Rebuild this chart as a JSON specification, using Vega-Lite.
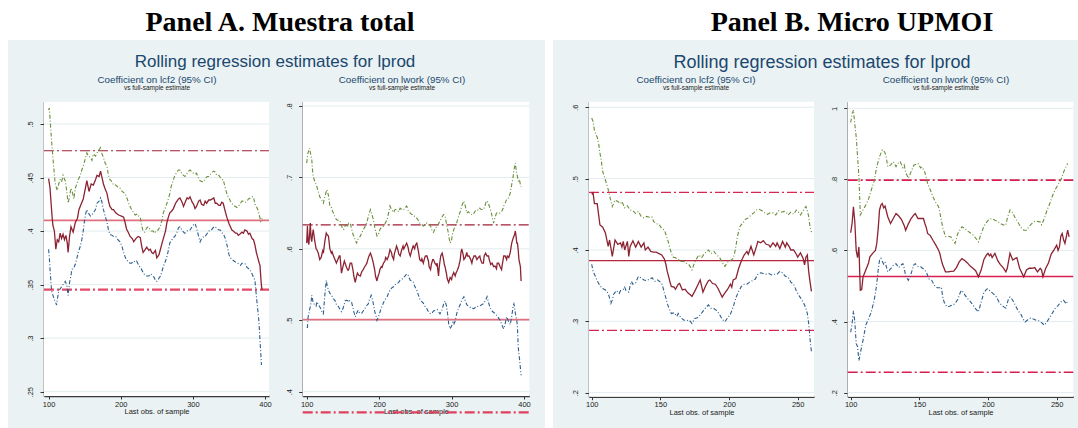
{
"$schema": "https://vega.github.io/schema/vega-lite/v6.json",
"background": "white",
"padding": {"left": 8, "top": 9, "right": 0, "bottom": 0},
"spacing": 8,
"resolve": {"scale": {"color": "independent", "strokeDash": "independent", "strokeWidth": "independent"}},
"config": {
  "view": {"stroke": null, "fill": "#EAF2F3"},
  "font": "Liberation Sans",
  "title": {"font": "Liberation Sans", "fontWeight": "normal", "color": "#1A476F", "anchor": "middle", "subtitleFont": "Liberation Sans", "subtitleColor": "#222222"},
  "axis": {"grid": false, "zindex": 1, "labelFont": "Liberation Sans", "labelFontSize": 7.5, "labelColor": "#222222", "tickColor": "#333333", "tickWidth": 1, "domainColor": "#3A3A3A", "domainWidth": 1.5, "titleFont": "Liberation Sans", "titleFontSize": 7.5, "titleFontWeight": "normal", "titleColor": "#222222", "labelFlush": false, "labelOverlap": false},
  "axisY": {"labelAngle": -90, "labelAlign": "center", "labelBaseline": "bottom", "labelPadding": 5.5, "tickSize": 4},
  "axisX": {"tickSize": 3, "labelPadding": 1, "titlePadding": 0, "format": "d", "labelAngle": 0}
},
"datasets": {
"A1r": [{"k":"ub","v":0.475},{"k":"est","v":0.41},{"k":"lb","v":0.3453}],
"A2r": [{"k":"ub","v":0.6336},{"k":"est","v":0.501},{"k":"lb","v":0.371}],
"B1r": [{"k":"ub","v":0.4808},{"k":"est","v":0.385},{"k":"lb","v":0.2874}],
"B2r": [{"k":"ub","v":0.798},{"k":"est","v":0.5268},{"k":"lb","v":0.2575}],
"A1c": [{"x":100,"y":0.449},{"x":102,"y":0.44},{"x":103,"y":0.43},{"x":105,"y":0.412},{"x":106,"y":0.405},{"x":108,"y":0.4},{"x":110,"y":0.383},{"x":112,"y":0.392},{"x":114,"y":0.39},{"x":116,"y":0.398},{"x":118,"y":0.393},{"x":120,"y":0.397},{"x":122,"y":0.392},{"x":124,"y":0.396},{"x":126,"y":0.388},{"x":127,"y":0.38},{"x":129,"y":0.395},{"x":131,"y":0.404},{"x":134,"y":0.399},{"x":137,"y":0.408},{"x":140,"y":0.412},{"x":142,"y":0.42},{"x":145,"y":0.425},{"x":148,"y":0.43},{"x":151,"y":0.44},{"x":153,"y":0.447},{"x":156,"y":0.437},{"x":159,"y":0.444},{"x":162,"y":0.443},{"x":165,"y":0.448},{"x":167,"y":0.452},{"x":170,"y":0.451},{"x":172,"y":0.456},{"x":174,"y":0.45},{"x":176,"y":0.444},{"x":178,"y":0.44},{"x":181,"y":0.435},{"x":183,"y":0.428},{"x":185,"y":0.423},{"x":188,"y":0.42},{"x":190,"y":0.42},{"x":193,"y":0.417},{"x":197,"y":0.415},{"x":201,"y":0.414},{"x":204,"y":0.413},{"x":206,"y":0.408},{"x":208,"y":0.402},{"x":211,"y":0.398},{"x":213,"y":0.395},{"x":216,"y":0.393},{"x":218,"y":0.39},{"x":221,"y":0.393},{"x":224,"y":0.395},{"x":227,"y":0.394},{"x":229,"y":0.386},{"x":231,"y":0.38},{"x":234,"y":0.383},{"x":236,"y":0.385},{"x":239,"y":0.382},{"x":241,"y":0.383},{"x":243,"y":0.38},{"x":245,"y":0.379},{"x":248,"y":0.382},{"x":250,"y":0.375},{"x":253,"y":0.378},{"x":255,"y":0.383},{"x":257,"y":0.388},{"x":259,"y":0.393},{"x":262,"y":0.4},{"x":264,"y":0.408},{"x":266,"y":0.413},{"x":268,"y":0.417},{"x":271,"y":0.419},{"x":273,"y":0.421},{"x":276,"y":0.426},{"x":278,"y":0.428},{"x":280,"y":0.43},{"x":282,"y":0.431},{"x":285,"y":0.427},{"x":287,"y":0.423},{"x":290,"y":0.428},{"x":292,"y":0.431},{"x":294,"y":0.43},{"x":296,"y":0.432},{"x":299,"y":0.427},{"x":301,"y":0.425},{"x":303,"y":0.421},{"x":305,"y":0.423},{"x":308,"y":0.428},{"x":310,"y":0.429},{"x":312,"y":0.425},{"x":315,"y":0.424},{"x":317,"y":0.428},{"x":319,"y":0.426},{"x":322,"y":0.429},{"x":324,"y":0.429},{"x":327,"y":0.43},{"x":329,"y":0.431},{"x":331,"y":0.426},{"x":333,"y":0.426},{"x":336,"y":0.424},{"x":338,"y":0.424},{"x":340,"y":0.427},{"x":342,"y":0.426},{"x":345,"y":0.418},{"x":347,"y":0.413},{"x":350,"y":0.407},{"x":352,"y":0.404},{"x":354,"y":0.401},{"x":356,"y":0.4},{"x":359,"y":0.398},{"x":361,"y":0.398},{"x":363,"y":0.396},{"x":365,"y":0.397},{"x":368,"y":0.399},{"x":370,"y":0.398},{"x":372,"y":0.401},{"x":375,"y":0.4},{"x":377,"y":0.397},{"x":379,"y":0.398},{"x":382,"y":0.393},{"x":384,"y":0.392},{"x":386,"y":0.387},{"x":388,"y":0.38},{"x":390,"y":0.375},{"x":392,"y":0.37},{"x":393,"y":0.368},{"x":394,"y":0.358},{"x":395,"y":0.349},{"x":396,"y":0.345}],
"A1h": [{"x":100,"y":0.513},{"x":101,"y":0.515},{"x":102,"y":0.505},{"x":104,"y":0.485},{"x":106,"y":0.468},{"x":107,"y":0.46},{"x":109,"y":0.445},{"x":111,"y":0.44},{"x":112,"y":0.438},{"x":114,"y":0.444},{"x":116,"y":0.448},{"x":118,"y":0.446},{"x":120,"y":0.452},{"x":121,"y":0.45},{"x":123,"y":0.447},{"x":125,"y":0.438},{"x":127,"y":0.426},{"x":129,"y":0.432},{"x":131,"y":0.44},{"x":133,"y":0.436},{"x":135,"y":0.43},{"x":137,"y":0.44},{"x":139,"y":0.444},{"x":141,"y":0.448},{"x":144,"y":0.452},{"x":146,"y":0.457},{"x":149,"y":0.463},{"x":151,"y":0.468},{"x":153,"y":0.473},{"x":155,"y":0.47},{"x":158,"y":0.469},{"x":160,"y":0.466},{"x":162,"y":0.472},{"x":165,"y":0.47},{"x":168,"y":0.474},{"x":170,"y":0.476},{"x":172,"y":0.478},{"x":174,"y":0.472},{"x":176,"y":0.469},{"x":178,"y":0.464},{"x":181,"y":0.46},{"x":183,"y":0.452},{"x":185,"y":0.448},{"x":188,"y":0.446},{"x":190,"y":0.443},{"x":193,"y":0.443},{"x":196,"y":0.441},{"x":199,"y":0.44},{"x":202,"y":0.437},{"x":206,"y":0.435},{"x":209,"y":0.43},{"x":211,"y":0.426},{"x":213,"y":0.423},{"x":215,"y":0.42},{"x":218,"y":0.417},{"x":220,"y":0.415},{"x":223,"y":0.416},{"x":225,"y":0.414},{"x":227,"y":0.413},{"x":229,"y":0.405},{"x":231,"y":0.4},{"x":233,"y":0.399},{"x":236,"y":0.403},{"x":238,"y":0.404},{"x":240,"y":0.402},{"x":242,"y":0.4},{"x":245,"y":0.4},{"x":247,"y":0.398},{"x":250,"y":0.401},{"x":252,"y":0.401},{"x":255,"y":0.405},{"x":257,"y":0.41},{"x":259,"y":0.417},{"x":262,"y":0.422},{"x":264,"y":0.426},{"x":266,"y":0.43},{"x":268,"y":0.435},{"x":270,"y":0.442},{"x":273,"y":0.448},{"x":275,"y":0.452},{"x":278,"y":0.455},{"x":280,"y":0.457},{"x":282,"y":0.457},{"x":285,"y":0.453},{"x":287,"y":0.452},{"x":289,"y":0.451},{"x":292,"y":0.454},{"x":294,"y":0.456},{"x":296,"y":0.457},{"x":299,"y":0.455},{"x":301,"y":0.454},{"x":303,"y":0.453},{"x":305,"y":0.454},{"x":308,"y":0.449},{"x":310,"y":0.447},{"x":313,"y":0.446},{"x":315,"y":0.446},{"x":317,"y":0.449},{"x":320,"y":0.451},{"x":322,"y":0.451},{"x":324,"y":0.453},{"x":327,"y":0.455},{"x":329,"y":0.456},{"x":331,"y":0.455},{"x":333,"y":0.452},{"x":336,"y":0.452},{"x":338,"y":0.45},{"x":340,"y":0.448},{"x":342,"y":0.448},{"x":345,"y":0.44},{"x":347,"y":0.435},{"x":349,"y":0.432},{"x":352,"y":0.428},{"x":354,"y":0.426},{"x":356,"y":0.424},{"x":359,"y":0.423},{"x":361,"y":0.422},{"x":363,"y":0.423},{"x":366,"y":0.426},{"x":368,"y":0.428},{"x":370,"y":0.428},{"x":373,"y":0.427},{"x":375,"y":0.428},{"x":377,"y":0.43},{"x":380,"y":0.431},{"x":382,"y":0.432},{"x":384,"y":0.432},{"x":386,"y":0.425},{"x":388,"y":0.423},{"x":390,"y":0.42},{"x":392,"y":0.415},{"x":394,"y":0.409},{"x":395,"y":0.41},{"x":396,"y":0.412}],
"A1l": [{"x":100,"y":0.383},{"x":101,"y":0.375},{"x":102,"y":0.364},{"x":104,"y":0.345},{"x":106,"y":0.34},{"x":108,"y":0.336},{"x":110,"y":0.333},{"x":111,"y":0.331},{"x":112,"y":0.336},{"x":114,"y":0.344},{"x":116,"y":0.346},{"x":118,"y":0.348},{"x":120,"y":0.35},{"x":122,"y":0.352},{"x":123,"y":0.353},{"x":125,"y":0.35},{"x":127,"y":0.34},{"x":129,"y":0.352},{"x":131,"y":0.358},{"x":132,"y":0.364},{"x":135,"y":0.366},{"x":137,"y":0.369},{"x":139,"y":0.374},{"x":141,"y":0.38},{"x":144,"y":0.386},{"x":146,"y":0.392},{"x":148,"y":0.4},{"x":150,"y":0.411},{"x":152,"y":0.418},{"x":153,"y":0.42},{"x":155,"y":0.417},{"x":158,"y":0.414},{"x":160,"y":0.415},{"x":162,"y":0.417},{"x":165,"y":0.42},{"x":167,"y":0.426},{"x":170,"y":0.428},{"x":172,"y":0.431},{"x":174,"y":0.427},{"x":176,"y":0.42},{"x":178,"y":0.415},{"x":181,"y":0.408},{"x":183,"y":0.401},{"x":185,"y":0.397},{"x":188,"y":0.396},{"x":190,"y":0.395},{"x":193,"y":0.395},{"x":196,"y":0.392},{"x":199,"y":0.39},{"x":202,"y":0.385},{"x":204,"y":0.38},{"x":206,"y":0.376},{"x":208,"y":0.373},{"x":211,"y":0.371},{"x":213,"y":0.37},{"x":215,"y":0.37},{"x":218,"y":0.372},{"x":220,"y":0.371},{"x":222,"y":0.372},{"x":225,"y":0.368},{"x":227,"y":0.366},{"x":229,"y":0.364},{"x":232,"y":0.36},{"x":234,"y":0.359},{"x":236,"y":0.358},{"x":239,"y":0.358},{"x":241,"y":0.36},{"x":243,"y":0.359},{"x":246,"y":0.357},{"x":248,"y":0.354},{"x":250,"y":0.353},{"x":252,"y":0.355},{"x":255,"y":0.358},{"x":257,"y":0.362},{"x":259,"y":0.367},{"x":262,"y":0.372},{"x":264,"y":0.376},{"x":266,"y":0.382},{"x":268,"y":0.389},{"x":271,"y":0.392},{"x":273,"y":0.394},{"x":275,"y":0.395},{"x":278,"y":0.399},{"x":280,"y":0.403},{"x":282,"y":0.404},{"x":285,"y":0.401},{"x":287,"y":0.399},{"x":289,"y":0.398},{"x":292,"y":0.4},{"x":294,"y":0.401},{"x":296,"y":0.401},{"x":299,"y":0.404},{"x":301,"y":0.406},{"x":303,"y":0.407},{"x":305,"y":0.403},{"x":308,"y":0.395},{"x":310,"y":0.39},{"x":312,"y":0.393},{"x":315,"y":0.395},{"x":317,"y":0.395},{"x":320,"y":0.398},{"x":322,"y":0.4},{"x":324,"y":0.4},{"x":327,"y":0.402},{"x":329,"y":0.404},{"x":331,"y":0.404},{"x":334,"y":0.402},{"x":336,"y":0.401},{"x":338,"y":0.401},{"x":341,"y":0.398},{"x":343,"y":0.396},{"x":345,"y":0.393},{"x":348,"y":0.385},{"x":350,"y":0.378},{"x":352,"y":0.375},{"x":355,"y":0.373},{"x":357,"y":0.372},{"x":359,"y":0.371},{"x":362,"y":0.37},{"x":364,"y":0.369},{"x":366,"y":0.368},{"x":368,"y":0.37},{"x":371,"y":0.37},{"x":373,"y":0.369},{"x":375,"y":0.366},{"x":377,"y":0.365},{"x":379,"y":0.364},{"x":382,"y":0.36},{"x":384,"y":0.357},{"x":386,"y":0.354},{"x":388,"y":0.339},{"x":390,"y":0.326},{"x":391,"y":0.32},{"x":392,"y":0.31},{"x":393,"y":0.298},{"x":394,"y":0.287},{"x":395,"y":0.275}],
"A2c": [{"x":100,"y":0.608},{"x":101,"y":0.632},{"x":102,"y":0.61},{"x":103,"y":0.606},{"x":104,"y":0.62},{"x":105,"y":0.636},{"x":106,"y":0.615},{"x":107,"y":0.61},{"x":108,"y":0.62},{"x":109,"y":0.627},{"x":111,"y":0.612},{"x":113,"y":0.6},{"x":114,"y":0.599},{"x":116,"y":0.594},{"x":118,"y":0.585},{"x":120,"y":0.588},{"x":122,"y":0.597},{"x":123,"y":0.594},{"x":125,"y":0.61},{"x":127,"y":0.622},{"x":128,"y":0.62},{"x":130,"y":0.618},{"x":132,"y":0.6},{"x":134,"y":0.594},{"x":135,"y":0.596},{"x":137,"y":0.59},{"x":139,"y":0.585},{"x":141,"y":0.58},{"x":143,"y":0.585},{"x":145,"y":0.59},{"x":146,"y":0.59},{"x":148,"y":0.566},{"x":150,"y":0.575},{"x":152,"y":0.583},{"x":153,"y":0.58},{"x":155,"y":0.574},{"x":157,"y":0.57},{"x":158,"y":0.571},{"x":160,"y":0.58},{"x":162,"y":0.58},{"x":164,"y":0.57},{"x":165,"y":0.562},{"x":167,"y":0.553},{"x":168,"y":0.558},{"x":170,"y":0.566},{"x":172,"y":0.563},{"x":174,"y":0.562},{"x":176,"y":0.568},{"x":178,"y":0.571},{"x":180,"y":0.575},{"x":182,"y":0.578},{"x":183,"y":0.58},{"x":185,"y":0.587},{"x":186,"y":0.59},{"x":188,"y":0.594},{"x":190,"y":0.588},{"x":192,"y":0.58},{"x":194,"y":0.57},{"x":195,"y":0.562},{"x":197,"y":0.555},{"x":198,"y":0.56},{"x":200,"y":0.566},{"x":201,"y":0.571},{"x":203,"y":0.575},{"x":204,"y":0.574},{"x":206,"y":0.58},{"x":208,"y":0.583},{"x":209,"y":0.588},{"x":211,"y":0.585},{"x":213,"y":0.59},{"x":215,"y":0.599},{"x":217,"y":0.595},{"x":218,"y":0.59},{"x":220,"y":0.585},{"x":221,"y":0.593},{"x":223,"y":0.6},{"x":224,"y":0.604},{"x":226,"y":0.598},{"x":227,"y":0.593},{"x":229,"y":0.59},{"x":231,"y":0.598},{"x":233,"y":0.604},{"x":234,"y":0.6},{"x":236,"y":0.604},{"x":238,"y":0.608},{"x":240,"y":0.602},{"x":241,"y":0.596},{"x":243,"y":0.59},{"x":245,"y":0.598},{"x":247,"y":0.604},{"x":249,"y":0.6},{"x":250,"y":0.605},{"x":252,"y":0.608},{"x":254,"y":0.598},{"x":256,"y":0.585},{"x":258,"y":0.583},{"x":259,"y":0.586},{"x":261,"y":0.58},{"x":263,"y":0.588},{"x":264,"y":0.59},{"x":266,"y":0.59},{"x":268,"y":0.583},{"x":269,"y":0.575},{"x":271,"y":0.571},{"x":272,"y":0.578},{"x":274,"y":0.585},{"x":275,"y":0.585},{"x":277,"y":0.58},{"x":279,"y":0.577},{"x":280,"y":0.58},{"x":282,"y":0.562},{"x":283,"y":0.575},{"x":285,"y":0.59},{"x":287,"y":0.594},{"x":289,"y":0.585},{"x":290,"y":0.578},{"x":291,"y":0.575},{"x":293,"y":0.565},{"x":294,"y":0.558},{"x":296,"y":0.553},{"x":298,"y":0.56},{"x":300,"y":0.557},{"x":301,"y":0.562},{"x":303,"y":0.567},{"x":305,"y":0.562},{"x":306,"y":0.566},{"x":308,"y":0.57},{"x":310,"y":0.576},{"x":312,"y":0.585},{"x":313,"y":0.595},{"x":314,"y":0.6},{"x":316,"y":0.592},{"x":317,"y":0.585},{"x":319,"y":0.588},{"x":321,"y":0.595},{"x":322,"y":0.59},{"x":324,"y":0.59},{"x":326,"y":0.586},{"x":328,"y":0.58},{"x":329,"y":0.585},{"x":331,"y":0.59},{"x":333,"y":0.59},{"x":335,"y":0.585},{"x":337,"y":0.588},{"x":339,"y":0.59},{"x":340,"y":0.585},{"x":342,"y":0.58},{"x":344,"y":0.58},{"x":345,"y":0.59},{"x":347,"y":0.594},{"x":349,"y":0.59},{"x":351,"y":0.59},{"x":352,"y":0.585},{"x":354,"y":0.578},{"x":356,"y":0.58},{"x":358,"y":0.575},{"x":360,"y":0.576},{"x":362,"y":0.572},{"x":363,"y":0.58},{"x":365,"y":0.58},{"x":367,"y":0.575},{"x":369,"y":0.571},{"x":370,"y":0.578},{"x":372,"y":0.59},{"x":374,"y":0.59},{"x":376,"y":0.585},{"x":377,"y":0.59},{"x":379,"y":0.588},{"x":381,"y":0.595},{"x":383,"y":0.608},{"x":385,"y":0.615},{"x":387,"y":0.62},{"x":388,"y":0.625},{"x":389,"y":0.618},{"x":390,"y":0.608},{"x":391,"y":0.608},{"x":392,"y":0.598},{"x":393,"y":0.585},{"x":394,"y":0.58},{"x":395,"y":0.575},{"x":396,"y":0.555}],
"A2h": [{"x":100,"y":0.72},{"x":101,"y":0.729},{"x":102,"y":0.735},{"x":103,"y":0.738},{"x":104,"y":0.741},{"x":105,"y":0.735},{"x":106,"y":0.73},{"x":107,"y":0.725},{"x":108,"y":0.71},{"x":109,"y":0.701},{"x":111,"y":0.695},{"x":113,"y":0.69},{"x":114,"y":0.687},{"x":116,"y":0.68},{"x":118,"y":0.673},{"x":120,"y":0.67},{"x":122,"y":0.666},{"x":123,"y":0.664},{"x":125,"y":0.673},{"x":127,"y":0.68},{"x":128,"y":0.683},{"x":130,"y":0.675},{"x":132,"y":0.66},{"x":134,"y":0.658},{"x":136,"y":0.652},{"x":137,"y":0.65},{"x":139,"y":0.645},{"x":141,"y":0.641},{"x":143,"y":0.64},{"x":145,"y":0.64},{"x":146,"y":0.639},{"x":148,"y":0.632},{"x":150,"y":0.628},{"x":151,"y":0.627},{"x":153,"y":0.632},{"x":155,"y":0.633},{"x":156,"y":0.632},{"x":158,"y":0.636},{"x":160,"y":0.636},{"x":162,"y":0.628},{"x":164,"y":0.62},{"x":165,"y":0.618},{"x":167,"y":0.612},{"x":169,"y":0.608},{"x":171,"y":0.614},{"x":173,"y":0.616},{"x":174,"y":0.618},{"x":176,"y":0.622},{"x":178,"y":0.627},{"x":180,"y":0.63},{"x":182,"y":0.635},{"x":183,"y":0.636},{"x":185,"y":0.645},{"x":187,"y":0.652},{"x":188,"y":0.655},{"x":190,"y":0.648},{"x":192,"y":0.641},{"x":194,"y":0.63},{"x":196,"y":0.622},{"x":197,"y":0.618},{"x":199,"y":0.62},{"x":201,"y":0.627},{"x":203,"y":0.63},{"x":206,"y":0.632},{"x":208,"y":0.635},{"x":211,"y":0.641},{"x":213,"y":0.65},{"x":215,"y":0.66},{"x":217,"y":0.655},{"x":220,"y":0.651},{"x":222,"y":0.655},{"x":224,"y":0.655},{"x":227,"y":0.652},{"x":229,"y":0.657},{"x":231,"y":0.655},{"x":234,"y":0.655},{"x":236,"y":0.658},{"x":238,"y":0.66},{"x":240,"y":0.654},{"x":243,"y":0.65},{"x":245,"y":0.648},{"x":247,"y":0.648},{"x":250,"y":0.644},{"x":252,"y":0.643},{"x":254,"y":0.64},{"x":256,"y":0.636},{"x":258,"y":0.635},{"x":261,"y":0.632},{"x":263,"y":0.633},{"x":266,"y":0.636},{"x":268,"y":0.634},{"x":271,"y":0.632},{"x":273,"y":0.626},{"x":275,"y":0.623},{"x":277,"y":0.628},{"x":280,"y":0.632},{"x":282,"y":0.635},{"x":284,"y":0.639},{"x":287,"y":0.645},{"x":289,"y":0.648},{"x":291,"y":0.646},{"x":293,"y":0.635},{"x":295,"y":0.625},{"x":296,"y":0.618},{"x":298,"y":0.608},{"x":300,"y":0.612},{"x":301,"y":0.62},{"x":303,"y":0.627},{"x":305,"y":0.632},{"x":307,"y":0.636},{"x":309,"y":0.643},{"x":311,"y":0.65},{"x":312,"y":0.652},{"x":314,"y":0.66},{"x":316,"y":0.665},{"x":317,"y":0.667},{"x":319,"y":0.66},{"x":321,"y":0.65},{"x":323,"y":0.652},{"x":325,"y":0.65},{"x":326,"y":0.65},{"x":328,"y":0.648},{"x":330,"y":0.648},{"x":332,"y":0.652},{"x":335,"y":0.655},{"x":337,"y":0.654},{"x":339,"y":0.657},{"x":341,"y":0.655},{"x":344,"y":0.655},{"x":346,"y":0.66},{"x":348,"y":0.667},{"x":349,"y":0.667},{"x":351,"y":0.663},{"x":353,"y":0.657},{"x":355,"y":0.65},{"x":357,"y":0.64},{"x":358,"y":0.636},{"x":360,"y":0.644},{"x":362,"y":0.65},{"x":364,"y":0.65},{"x":367,"y":0.65},{"x":369,"y":0.652},{"x":371,"y":0.656},{"x":372,"y":0.66},{"x":374,"y":0.664},{"x":376,"y":0.669},{"x":378,"y":0.67},{"x":381,"y":0.678},{"x":383,"y":0.69},{"x":385,"y":0.701},{"x":386,"y":0.71},{"x":387,"y":0.715},{"x":388,"y":0.72},{"x":389,"y":0.712},{"x":390,"y":0.705},{"x":391,"y":0.701},{"x":392,"y":0.695},{"x":393,"y":0.693},{"x":394,"y":0.695},{"x":395,"y":0.69},{"x":396,"y":0.687}],
"A2l": [{"x":100,"y":0.49},{"x":101,"y":0.49},{"x":102,"y":0.505},{"x":103,"y":0.509},{"x":104,"y":0.515},{"x":105,"y":0.519},{"x":106,"y":0.525},{"x":107,"y":0.535},{"x":108,"y":0.53},{"x":109,"y":0.524},{"x":111,"y":0.522},{"x":113,"y":0.52},{"x":114,"y":0.526},{"x":116,"y":0.522},{"x":118,"y":0.519},{"x":120,"y":0.515},{"x":122,"y":0.51},{"x":123,"y":0.509},{"x":125,"y":0.535},{"x":127,"y":0.556},{"x":128,"y":0.55},{"x":130,"y":0.542},{"x":132,"y":0.538},{"x":134,"y":0.535},{"x":136,"y":0.532},{"x":137,"y":0.53},{"x":139,"y":0.528},{"x":141,"y":0.522},{"x":143,"y":0.52},{"x":144,"y":0.519},{"x":146,"y":0.515},{"x":148,"y":0.512},{"x":150,"y":0.516},{"x":152,"y":0.523},{"x":153,"y":0.527},{"x":155,"y":0.528},{"x":157,"y":0.527},{"x":158,"y":0.529},{"x":160,"y":0.526},{"x":162,"y":0.525},{"x":164,"y":0.517},{"x":165,"y":0.512},{"x":167,"y":0.505},{"x":169,"y":0.51},{"x":171,"y":0.514},{"x":173,"y":0.51},{"x":176,"y":0.51},{"x":178,"y":0.513},{"x":180,"y":0.516},{"x":182,"y":0.519},{"x":184,"y":0.522},{"x":185,"y":0.523},{"x":187,"y":0.53},{"x":189,"y":0.535},{"x":191,"y":0.528},{"x":193,"y":0.518},{"x":194,"y":0.512},{"x":196,"y":0.505},{"x":197,"y":0.5},{"x":199,"y":0.505},{"x":201,"y":0.511},{"x":203,"y":0.517},{"x":205,"y":0.522},{"x":207,"y":0.527},{"x":209,"y":0.53},{"x":211,"y":0.533},{"x":213,"y":0.538},{"x":215,"y":0.542},{"x":218,"y":0.546},{"x":220,"y":0.547},{"x":222,"y":0.55},{"x":224,"y":0.551},{"x":227,"y":0.553},{"x":229,"y":0.556},{"x":231,"y":0.557},{"x":234,"y":0.56},{"x":236,"y":0.562},{"x":238,"y":0.565},{"x":240,"y":0.563},{"x":242,"y":0.558},{"x":243,"y":0.556},{"x":245,"y":0.555},{"x":247,"y":0.554},{"x":249,"y":0.548},{"x":252,"y":0.542},{"x":254,"y":0.536},{"x":256,"y":0.53},{"x":258,"y":0.527},{"x":261,"y":0.524},{"x":263,"y":0.52},{"x":266,"y":0.516},{"x":268,"y":0.512},{"x":271,"y":0.509},{"x":273,"y":0.51},{"x":275,"y":0.513},{"x":278,"y":0.514},{"x":280,"y":0.515},{"x":282,"y":0.512},{"x":284,"y":0.509},{"x":287,"y":0.515},{"x":289,"y":0.523},{"x":291,"y":0.527},{"x":293,"y":0.52},{"x":295,"y":0.505},{"x":296,"y":0.495},{"x":298,"y":0.488},{"x":300,"y":0.492},{"x":302,"y":0.497},{"x":303,"y":0.494},{"x":305,"y":0.499},{"x":307,"y":0.509},{"x":309,"y":0.515},{"x":311,"y":0.52},{"x":312,"y":0.522},{"x":314,"y":0.528},{"x":317,"y":0.533},{"x":319,"y":0.527},{"x":321,"y":0.522},{"x":323,"y":0.52},{"x":326,"y":0.518},{"x":328,"y":0.518},{"x":330,"y":0.516},{"x":333,"y":0.518},{"x":335,"y":0.518},{"x":337,"y":0.52},{"x":339,"y":0.52},{"x":342,"y":0.522},{"x":344,"y":0.523},{"x":347,"y":0.528},{"x":349,"y":0.533},{"x":351,"y":0.525},{"x":353,"y":0.518},{"x":355,"y":0.514},{"x":358,"y":0.511},{"x":360,"y":0.51},{"x":362,"y":0.507},{"x":365,"y":0.503},{"x":367,"y":0.5},{"x":369,"y":0.495},{"x":371,"y":0.49},{"x":372,"y":0.488},{"x":374,"y":0.495},{"x":376,"y":0.505},{"x":378,"y":0.5},{"x":380,"y":0.496},{"x":381,"y":0.494},{"x":383,"y":0.505},{"x":385,"y":0.52},{"x":386,"y":0.523},{"x":387,"y":0.518},{"x":388,"y":0.51},{"x":389,"y":0.505},{"x":390,"y":0.5},{"x":391,"y":0.49},{"x":392,"y":0.463},{"x":393,"y":0.452},{"x":394,"y":0.444},{"x":395,"y":0.433},{"x":396,"y":0.423}],
"B1c": [{"x":100,"y":0.478},{"x":101,"y":0.48},{"x":102,"y":0.465},{"x":104,"y":0.465},{"x":105,"y":0.45},{"x":106,"y":0.435},{"x":108,"y":0.432},{"x":110,"y":0.424},{"x":111,"y":0.414},{"x":112,"y":0.405},{"x":113,"y":0.414},{"x":115,"y":0.391},{"x":117,"y":0.414},{"x":119,"y":0.408},{"x":121,"y":0.41},{"x":122,"y":0.404},{"x":123,"y":0.412},{"x":124,"y":0.4},{"x":126,"y":0.412},{"x":127,"y":0.391},{"x":128,"y":0.405},{"x":130,"y":0.413},{"x":132,"y":0.404},{"x":134,"y":0.412},{"x":136,"y":0.404},{"x":138,"y":0.41},{"x":139,"y":0.4},{"x":141,"y":0.404},{"x":143,"y":0.398},{"x":145,"y":0.397},{"x":147,"y":0.397},{"x":149,"y":0.395},{"x":151,"y":0.393},{"x":153,"y":0.387},{"x":154,"y":0.38},{"x":155,"y":0.37},{"x":156,"y":0.363},{"x":157,"y":0.355},{"x":158,"y":0.349},{"x":160,"y":0.348},{"x":161,"y":0.345},{"x":163,"y":0.352},{"x":164,"y":0.353},{"x":166,"y":0.344},{"x":168,"y":0.345},{"x":170,"y":0.34},{"x":172,"y":0.337},{"x":173,"y":0.335},{"x":175,"y":0.342},{"x":177,"y":0.35},{"x":179,"y":0.358},{"x":181,"y":0.341},{"x":183,"y":0.35},{"x":185,"y":0.357},{"x":186,"y":0.358},{"x":188,"y":0.353},{"x":190,"y":0.352},{"x":192,"y":0.346},{"x":194,"y":0.338},{"x":195,"y":0.334},{"x":197,"y":0.34},{"x":199,"y":0.345},{"x":201,"y":0.352},{"x":202,"y":0.348},{"x":203,"y":0.358},{"x":205,"y":0.36},{"x":207,"y":0.374},{"x":209,"y":0.385},{"x":211,"y":0.393},{"x":213,"y":0.398},{"x":214,"y":0.394},{"x":216,"y":0.405},{"x":218,"y":0.393},{"x":220,"y":0.405},{"x":221,"y":0.412},{"x":223,"y":0.41},{"x":225,"y":0.413},{"x":227,"y":0.408},{"x":229,"y":0.407},{"x":230,"y":0.404},{"x":232,"y":0.41},{"x":234,"y":0.405},{"x":235,"y":0.41},{"x":237,"y":0.402},{"x":239,"y":0.412},{"x":241,"y":0.404},{"x":242,"y":0.41},{"x":244,"y":0.404},{"x":245,"y":0.4},{"x":247,"y":0.4},{"x":249,"y":0.394},{"x":250,"y":0.39},{"x":252,"y":0.396},{"x":254,"y":0.388},{"x":255,"y":0.379},{"x":256,"y":0.39},{"x":257,"y":0.393},{"x":258,"y":0.37},{"x":259,"y":0.355},{"x":260,"y":0.342}],
"B1h": [{"x":100,"y":0.585},{"x":101,"y":0.58},{"x":102,"y":0.567},{"x":104,"y":0.558},{"x":105,"y":0.55},{"x":106,"y":0.536},{"x":107,"y":0.525},{"x":108,"y":0.51},{"x":110,"y":0.498},{"x":112,"y":0.485},{"x":113,"y":0.476},{"x":115,"y":0.461},{"x":117,"y":0.47},{"x":119,"y":0.468},{"x":121,"y":0.465},{"x":122,"y":0.468},{"x":124,"y":0.459},{"x":126,"y":0.462},{"x":128,"y":0.456},{"x":130,"y":0.455},{"x":132,"y":0.451},{"x":134,"y":0.454},{"x":136,"y":0.447},{"x":138,"y":0.445},{"x":140,"y":0.447},{"x":142,"y":0.446},{"x":144,"y":0.446},{"x":145,"y":0.44},{"x":147,"y":0.437},{"x":149,"y":0.436},{"x":151,"y":0.43},{"x":153,"y":0.428},{"x":154,"y":0.422},{"x":155,"y":0.416},{"x":156,"y":0.41},{"x":157,"y":0.402},{"x":158,"y":0.396},{"x":159,"y":0.39},{"x":161,"y":0.389},{"x":163,"y":0.387},{"x":165,"y":0.384},{"x":167,"y":0.384},{"x":169,"y":0.381},{"x":171,"y":0.379},{"x":173,"y":0.372},{"x":175,"y":0.383},{"x":177,"y":0.39},{"x":178,"y":0.393},{"x":180,"y":0.389},{"x":182,"y":0.395},{"x":184,"y":0.398},{"x":185,"y":0.4},{"x":187,"y":0.395},{"x":189,"y":0.398},{"x":191,"y":0.393},{"x":193,"y":0.39},{"x":195,"y":0.383},{"x":197,"y":0.377},{"x":199,"y":0.383},{"x":201,"y":0.385},{"x":203,"y":0.388},{"x":204,"y":0.395},{"x":205,"y":0.405},{"x":206,"y":0.418},{"x":207,"y":0.426},{"x":208,"y":0.433},{"x":210,"y":0.438},{"x":212,"y":0.443},{"x":214,"y":0.445},{"x":216,"y":0.449},{"x":218,"y":0.452},{"x":220,"y":0.456},{"x":222,"y":0.457},{"x":224,"y":0.455},{"x":226,"y":0.452},{"x":228,"y":0.45},{"x":230,"y":0.452},{"x":232,"y":0.452},{"x":234,"y":0.449},{"x":236,"y":0.455},{"x":238,"y":0.453},{"x":240,"y":0.454},{"x":242,"y":0.452},{"x":243,"y":0.449},{"x":245,"y":0.453},{"x":247,"y":0.45},{"x":249,"y":0.456},{"x":251,"y":0.452},{"x":252,"y":0.449},{"x":254,"y":0.455},{"x":256,"y":0.461},{"x":257,"y":0.455},{"x":258,"y":0.447},{"x":259,"y":0.432},{"x":260,"y":0.425}],
"B1l": [{"x":100,"y":0.38},{"x":101,"y":0.37},{"x":102,"y":0.366},{"x":104,"y":0.357},{"x":106,"y":0.35},{"x":108,"y":0.346},{"x":110,"y":0.344},{"x":112,"y":0.339},{"x":113,"y":0.333},{"x":114,"y":0.325},{"x":115,"y":0.33},{"x":116,"y":0.338},{"x":118,"y":0.343},{"x":120,"y":0.339},{"x":121,"y":0.343},{"x":123,"y":0.345},{"x":124,"y":0.348},{"x":125,"y":0.343},{"x":127,"y":0.341},{"x":128,"y":0.35},{"x":129,"y":0.356},{"x":130,"y":0.352},{"x":132,"y":0.354},{"x":134,"y":0.363},{"x":136,"y":0.361},{"x":138,"y":0.358},{"x":140,"y":0.357},{"x":142,"y":0.359},{"x":144,"y":0.361},{"x":146,"y":0.356},{"x":148,"y":0.358},{"x":150,"y":0.355},{"x":151,"y":0.353},{"x":152,"y":0.347},{"x":153,"y":0.339},{"x":154,"y":0.333},{"x":155,"y":0.325},{"x":156,"y":0.32},{"x":157,"y":0.315},{"x":158,"y":0.311},{"x":160,"y":0.312},{"x":162,"y":0.307},{"x":163,"y":0.311},{"x":165,"y":0.305},{"x":167,"y":0.302},{"x":169,"y":0.301},{"x":171,"y":0.302},{"x":173,"y":0.297},{"x":175,"y":0.304},{"x":177,"y":0.305},{"x":179,"y":0.309},{"x":181,"y":0.314},{"x":183,"y":0.319},{"x":185,"y":0.323},{"x":187,"y":0.318},{"x":189,"y":0.318},{"x":191,"y":0.315},{"x":193,"y":0.31},{"x":195,"y":0.303},{"x":197,"y":0.2995},{"x":199,"y":0.305},{"x":201,"y":0.31},{"x":203,"y":0.32},{"x":205,"y":0.333},{"x":207,"y":0.342},{"x":209,"y":0.349},{"x":211,"y":0.352},{"x":213,"y":0.352},{"x":215,"y":0.355},{"x":217,"y":0.357},{"x":219,"y":0.359},{"x":221,"y":0.366},{"x":223,"y":0.368},{"x":225,"y":0.367},{"x":227,"y":0.366},{"x":229,"y":0.367},{"x":231,"y":0.365},{"x":233,"y":0.366},{"x":235,"y":0.366},{"x":237,"y":0.37},{"x":239,"y":0.368},{"x":241,"y":0.363},{"x":243,"y":0.362},{"x":245,"y":0.355},{"x":247,"y":0.352},{"x":249,"y":0.343},{"x":251,"y":0.336},{"x":253,"y":0.33},{"x":255,"y":0.323},{"x":256,"y":0.318},{"x":257,"y":0.311},{"x":258,"y":0.297},{"x":259,"y":0.275},{"x":260,"y":0.2575}],
"B2c": [{"x":100,"y":0.65},{"x":101,"y":0.676},{"x":102,"y":0.723},{"x":103,"y":0.68},{"x":104,"y":0.6},{"x":105,"y":0.58},{"x":106,"y":0.61},{"x":107,"y":0.488},{"x":108,"y":0.49},{"x":109,"y":0.526},{"x":111,"y":0.545},{"x":113,"y":0.565},{"x":114,"y":0.582},{"x":116,"y":0.592},{"x":118,"y":0.6},{"x":119,"y":0.62},{"x":120,"y":0.66},{"x":121,"y":0.714},{"x":122,"y":0.728},{"x":123,"y":0.732},{"x":124,"y":0.72},{"x":125,"y":0.725},{"x":127,"y":0.695},{"x":129,"y":0.676},{"x":131,"y":0.69},{"x":133,"y":0.704},{"x":135,"y":0.697},{"x":137,"y":0.687},{"x":139,"y":0.67},{"x":140,"y":0.657},{"x":142,"y":0.675},{"x":144,"y":0.69},{"x":146,"y":0.7},{"x":147,"y":0.704},{"x":149,"y":0.69},{"x":151,"y":0.69},{"x":153,"y":0.69},{"x":154,"y":0.676},{"x":155,"y":0.665},{"x":156,"y":0.648},{"x":158,"y":0.642},{"x":160,"y":0.628},{"x":162,"y":0.615},{"x":164,"y":0.601},{"x":165,"y":0.59},{"x":166,"y":0.573},{"x":167,"y":0.56},{"x":169,"y":0.54},{"x":171,"y":0.54},{"x":173,"y":0.541},{"x":175,"y":0.542},{"x":177,"y":0.552},{"x":179,"y":0.568},{"x":181,"y":0.577},{"x":183,"y":0.572},{"x":185,"y":0.565},{"x":187,"y":0.556},{"x":189,"y":0.55},{"x":191,"y":0.543},{"x":193,"y":0.526},{"x":195,"y":0.545},{"x":197,"y":0.575},{"x":199,"y":0.588},{"x":200,"y":0.592},{"x":201,"y":0.585},{"x":202,"y":0.59},{"x":203,"y":0.58},{"x":205,"y":0.592},{"x":207,"y":0.572},{"x":209,"y":0.56},{"x":211,"y":0.552},{"x":213,"y":0.54},{"x":214,"y":0.55},{"x":216,"y":0.592},{"x":218,"y":0.573},{"x":220,"y":0.578},{"x":221,"y":0.58},{"x":223,"y":0.55},{"x":226,"y":0.526},{"x":228,"y":0.545},{"x":230,"y":0.55},{"x":232,"y":0.55},{"x":234,"y":0.552},{"x":236,"y":0.54},{"x":238,"y":0.55},{"x":239,"y":0.545},{"x":240,"y":0.526},{"x":242,"y":0.55},{"x":244,"y":0.565},{"x":246,"y":0.59},{"x":248,"y":0.602},{"x":250,"y":0.615},{"x":251,"y":0.6},{"x":252,"y":0.61},{"x":253,"y":0.64},{"x":254,"y":0.648},{"x":255,"y":0.63},{"x":256,"y":0.62},{"x":258,"y":0.657},{"x":259,"y":0.638}],
"B2h": [{"x":100,"y":0.96},{"x":101,"y":0.985},{"x":102,"y":0.995},{"x":103,"y":0.955},{"x":104,"y":0.92},{"x":105,"y":0.864},{"x":106,"y":0.8075},{"x":107,"y":0.7},{"x":109,"y":0.714},{"x":111,"y":0.728},{"x":113,"y":0.745},{"x":115,"y":0.77},{"x":117,"y":0.795},{"x":119,"y":0.836},{"x":121,"y":0.864},{"x":123,"y":0.883},{"x":124,"y":0.88},{"x":125,"y":0.875},{"x":126,"y":0.86},{"x":127,"y":0.836},{"x":129,"y":0.84},{"x":131,"y":0.85},{"x":133,"y":0.836},{"x":135,"y":0.848},{"x":136,"y":0.85},{"x":138,"y":0.833},{"x":139,"y":0.84},{"x":140,"y":0.82},{"x":142,"y":0.803},{"x":144,"y":0.822},{"x":146,"y":0.84},{"x":148,"y":0.843},{"x":149,"y":0.845},{"x":151,"y":0.832},{"x":152,"y":0.835},{"x":154,"y":0.82},{"x":156,"y":0.789},{"x":158,"y":0.77},{"x":160,"y":0.75},{"x":162,"y":0.735},{"x":164,"y":0.723},{"x":165,"y":0.705},{"x":167,"y":0.665},{"x":169,"y":0.639},{"x":171,"y":0.64},{"x":173,"y":0.638},{"x":175,"y":0.625},{"x":176,"y":0.62},{"x":178,"y":0.648},{"x":180,"y":0.66},{"x":181,"y":0.667},{"x":183,"y":0.662},{"x":185,"y":0.655},{"x":187,"y":0.65},{"x":189,"y":0.644},{"x":191,"y":0.635},{"x":193,"y":0.624},{"x":195,"y":0.648},{"x":197,"y":0.668},{"x":199,"y":0.68},{"x":201,"y":0.688},{"x":203,"y":0.69},{"x":205,"y":0.685},{"x":207,"y":0.682},{"x":209,"y":0.676},{"x":211,"y":0.672},{"x":213,"y":0.671},{"x":214,"y":0.69},{"x":216,"y":0.714},{"x":218,"y":0.706},{"x":220,"y":0.69},{"x":222,"y":0.678},{"x":224,"y":0.665},{"x":226,"y":0.657},{"x":228,"y":0.657},{"x":230,"y":0.668},{"x":232,"y":0.676},{"x":234,"y":0.682},{"x":236,"y":0.682},{"x":238,"y":0.68},{"x":239,"y":0.672},{"x":241,"y":0.69},{"x":243,"y":0.714},{"x":245,"y":0.732},{"x":247,"y":0.755},{"x":249,"y":0.772},{"x":251,"y":0.785},{"x":253,"y":0.798},{"x":255,"y":0.82},{"x":256,"y":0.83},{"x":258,"y":0.845}],
"B2l": [{"x":100,"y":0.37},{"x":101,"y":0.394},{"x":102,"y":0.43},{"x":103,"y":0.4},{"x":104,"y":0.338},{"x":105,"y":0.33},{"x":106,"y":0.29},{"x":107,"y":0.31},{"x":108,"y":0.33},{"x":109,"y":0.348},{"x":111,"y":0.39},{"x":113,"y":0.408},{"x":115,"y":0.427},{"x":117,"y":0.458},{"x":118,"y":0.48},{"x":119,"y":0.507},{"x":120,"y":0.545},{"x":121,"y":0.573},{"x":122,"y":0.578},{"x":123,"y":0.57},{"x":124,"y":0.562},{"x":125,"y":0.568},{"x":127,"y":0.54},{"x":129,"y":0.548},{"x":131,"y":0.558},{"x":133,"y":0.563},{"x":135,"y":0.552},{"x":137,"y":0.56},{"x":138,"y":0.563},{"x":139,"y":0.55},{"x":140,"y":0.528},{"x":142,"y":0.516},{"x":144,"y":0.535},{"x":146,"y":0.56},{"x":147,"y":0.563},{"x":149,"y":0.555},{"x":151,"y":0.554},{"x":153,"y":0.548},{"x":155,"y":0.54},{"x":157,"y":0.52},{"x":159,"y":0.516},{"x":161,"y":0.502},{"x":163,"y":0.495},{"x":165,"y":0.495},{"x":166,"y":0.497},{"x":167,"y":0.47},{"x":168,"y":0.455},{"x":170,"y":0.442},{"x":172,"y":0.443},{"x":174,"y":0.447},{"x":176,"y":0.45},{"x":178,"y":0.463},{"x":180,"y":0.484},{"x":181,"y":0.488},{"x":183,"y":0.476},{"x":185,"y":0.465},{"x":187,"y":0.457},{"x":189,"y":0.447},{"x":191,"y":0.436},{"x":193,"y":0.427},{"x":195,"y":0.455},{"x":197,"y":0.482},{"x":199,"y":0.491},{"x":200,"y":0.4925},{"x":202,"y":0.484},{"x":204,"y":0.478},{"x":206,"y":0.47},{"x":208,"y":0.455},{"x":210,"y":0.446},{"x":212,"y":0.44},{"x":213,"y":0.438},{"x":215,"y":0.465},{"x":216,"y":0.469},{"x":218,"y":0.46},{"x":220,"y":0.445},{"x":222,"y":0.43},{"x":224,"y":0.42},{"x":226,"y":0.404},{"x":227,"y":0.399},{"x":229,"y":0.405},{"x":231,"y":0.41},{"x":233,"y":0.407},{"x":235,"y":0.404},{"x":237,"y":0.402},{"x":239,"y":0.397},{"x":241,"y":0.39},{"x":243,"y":0.4},{"x":245,"y":0.412},{"x":247,"y":0.425},{"x":249,"y":0.438},{"x":251,"y":0.445},{"x":253,"y":0.455},{"x":255,"y":0.46},{"x":256,"y":0.455},{"x":257,"y":0.45},{"x":258,"y":0.46}]
},
"hconcat": [
{
 "title": {"text": "Panel A. Muestra total", "font": "Liberation Serif", "fontSize": 28, "fontWeight": "bold", "color": "#000000", "offset": 3, "dx": 3.5},
 "resolve": {"scale": {"color": "independent", "strokeDash": "independent", "strokeWidth": "independent"}},
 "vconcat": [{
  "title": {"text": "Rolling regression estimates for lprod", "fontSize": 17, "offset": -31.3, "dx": -1.5},
  "spacing": 0,
  "resolve": {"scale": {"color": "independent", "strokeDash": "independent", "strokeWidth": "independent"}},
  "hconcat": [
   {"width": 268, "height": 388,
    "title": {"text": "Coefficient on lcf2 (95% CI)", "subtitle": "vs full-sample estimate", "fontSize": 9.8, "subtitleFontSize": 6.5, "subtitlePadding": 0.5, "offset": -51.7, "dx": 15},
    "layer": [
     {"data": {"values": [{"a": 1}]}, "mark": {"type": "rect", "fill": "white"},
      "encoding": {"x": {"datum": 93.6, "type": "quantitative"}, "x2": {"datum": 405.5}, "y": {"datum": 0.246, "type": "quantitative"}, "y2": {"datum": 0.5208}}},
     {"data": {"values": [{"t": 0.25}, {"t": 0.3}, {"t": 0.35}, {"t": 0.4}, {"t": 0.45}, {"t": 0.5}]}, "mark": {"type": "rule", "color": "#E2EBEE", "strokeWidth": 1},
      "encoding": {"y": {"field": "t", "type": "quantitative"}, "x": {"datum": 93.6, "type": "quantitative"}, "x2": {"datum": 405.5}}},
     {"data": {"name": "A1r"}, "mark": {"type": "rule"},
      "encoding": {"y": {"field": "v", "type": "quantitative"}, "x": {"datum": 93.6, "type": "quantitative"}, "x2": {"datum": 405.5},
       "color": {"field": "k", "type": "nominal", "scale": {"domain": ["ub", "est", "lb"], "range": ["#9E1F36", "#E0707F", "#E24A68"]}, "legend": null},
       "strokeDash": {"field": "k", "type": "nominal", "scale": {"domain": ["ub", "est", "lb"], "range": [[10, 3, 2, 3], [1, 0], [10, 3, 2, 3]]}, "legend": null},
       "strokeWidth": {"field": "k", "type": "ordinal", "scale": {"domain": ["ub", "est", "lb"], "range": [1.2, 2.2, 1.3]}, "legend": null}}},
     {"data": {"name": "A1h"}, "mark": {"type": "line", "color": "#6A8F3C", "strokeWidth": 1.1, "strokeDash": [4, 2, 1, 2]}, "encoding": {"x": {"field": "x", "type": "quantitative"}, "y": {"field": "y", "type": "quantitative"}}},
     {"data": {"name": "A1l"}, "mark": {"type": "line", "color": "#2C5E8E", "strokeWidth": 1.1, "strokeDash": [4, 2, 1, 2]}, "encoding": {"x": {"field": "x", "type": "quantitative"}, "y": {"field": "y", "type": "quantitative"}}},
     {"data": {"name": "A1c"}, "mark": {"type": "line", "color": "#8B2332", "strokeWidth": 1.3},
      "encoding": {
       "x": {"field": "x", "type": "quantitative", "scale": {"domain": [93.6, 405.5], "range": [36, 261], "nice": false, "zero": false}, "axis": {"values": [100, 200, 300, 400], "offset": -32, "title": "Last obs. of sample"}},
       "y": {"field": "y", "type": "quantitative", "scale": {"domain": [0.246, 0.5208], "range": [356, 61.7], "nice": false, "zero": false}, "axis": {"values": [0.25, 0.3, 0.35, 0.4, 0.45, 0.5], "offset": -36, "title": null, "labelExpr": "datum.value < 1 ? replace(format(datum.value, '.2~f'), '0.', '.') : format(datum.value, 'd')"}}}}
    ]},
   {"width": 269, "height": 388,
    "title": {"text": "Coefficient on lwork (95% CI)", "subtitle": "vs full-sample estimate", "fontSize": 9.8, "subtitleFontSize": 6.5, "subtitlePadding": 0.5, "offset": -51.7, "dx": -8.5},
    "layer": [
     {"data": {"values": [{"a": 1}]}, "mark": {"type": "rect", "fill": "white"},
      "encoding": {"x": {"datum": 94.48, "type": "quantitative"}, "x2": {"datum": 407.3}, "y": {"datum": 0.394, "type": "quantitative"}, "y2": {"datum": 0.806}}},
     {"data": {"values": [{"t": 0.4}, {"t": 0.5}, {"t": 0.6}, {"t": 0.7}, {"t": 0.8}]}, "mark": {"type": "rule", "color": "#E2EBEE", "strokeWidth": 1},
      "encoding": {"y": {"field": "t", "type": "quantitative"}, "x": {"datum": 94.48, "type": "quantitative"}, "x2": {"datum": 407.3}}},
     {"data": {"name": "A2r"}, "mark": {"type": "rule"},
      "encoding": {"y": {"field": "v", "type": "quantitative"}, "x": {"datum": 94.48, "type": "quantitative"}, "x2": {"datum": 407.3},
       "color": {"field": "k", "type": "nominal", "scale": {"domain": ["ub", "est", "lb"], "range": ["#9E1F36", "#E0707F", "#E0405F"]}, "legend": null},
       "strokeDash": {"field": "k", "type": "nominal", "scale": {"domain": ["ub", "est", "lb"], "range": [[10, 3, 2, 3], [1, 0], [10, 3, 2, 3]]}, "legend": null},
       "strokeWidth": {"field": "k", "type": "ordinal", "scale": {"domain": ["ub", "est", "lb"], "range": [1.2, 2.2, 1.3]}, "legend": null}}},
     {"data": {"name": "A2h"}, "mark": {"type": "line", "color": "#6A8F3C", "strokeWidth": 1.1, "strokeDash": [4, 2, 1, 2]}, "encoding": {"x": {"field": "x", "type": "quantitative"}, "y": {"field": "y", "type": "quantitative"}}},
     {"data": {"name": "A2l"}, "mark": {"type": "line", "color": "#2C5E8E", "strokeWidth": 1.1, "strokeDash": [4, 2, 1, 2]}, "encoding": {"x": {"field": "x", "type": "quantitative"}, "y": {"field": "y", "type": "quantitative"}}},
     {"data": {"name": "A2c"}, "mark": {"type": "line", "color": "#8B2332", "strokeWidth": 1.3},
      "encoding": {
       "x": {"field": "x", "type": "quantitative", "scale": {"domain": [94.48, 407.3], "range": [26.7, 253.3], "nice": false, "zero": false}, "axis": {"values": [100, 200, 300, 400], "offset": -32, "title": "Last obs. of sample"}},
       "y": {"field": "y", "type": "quantitative", "scale": {"domain": [0.394, 0.806], "range": [356, 61.7], "nice": false, "zero": false}, "axis": {"values": [0.4, 0.5, 0.6, 0.7, 0.8], "offset": -26.7, "title": null, "labelExpr": "datum.value < 1 ? replace(format(datum.value, '.2~f'), '0.', '.') : format(datum.value, 'd')"}}}}
    ]}
  ]
 }]
},
{
 "title": {"text": "Panel B. Micro UPMOI", "font": "Liberation Serif", "fontSize": 28, "fontWeight": "bold", "color": "#000000", "offset": 3, "dx": 36.5},
 "resolve": {"scale": {"color": "independent", "strokeDash": "independent", "strokeWidth": "independent"}},
 "vconcat": [{
  "title": {"text": "Rolling regression estimates for lprod", "fontSize": 18, "offset": -32.1, "dx": 6.5},
  "spacing": 0,
  "resolve": {"scale": {"color": "independent", "strokeDash": "independent", "strokeWidth": "independent"}},
  "hconcat": [
   {"width": 269, "height": 388,
    "title": {"text": "Coefficient on lcf2 (95% CI)", "subtitle": "vs full-sample estimate", "fontSize": 9.8, "subtitleFontSize": 6.5, "subtitlePadding": 0.5, "offset": -51.7, "dx": 8.5},
    "layer": [
     {"data": {"values": [{"a": 1}]}, "mark": {"type": "rect", "fill": "white"},
      "encoding": {"x": {"datum": 98.03, "type": "quantitative"}, "x2": {"datum": 261.87}, "y": {"datum": 0.1944, "type": "quantitative"}, "y2": {"datum": 0.6078}}},
     {"data": {"values": [{"t": 0.2}, {"t": 0.3}, {"t": 0.4}, {"t": 0.5}, {"t": 0.6}]}, "mark": {"type": "rule", "color": "#E2EBEE", "strokeWidth": 1},
      "encoding": {"y": {"field": "t", "type": "quantitative"}, "x": {"datum": 98.03, "type": "quantitative"}, "x2": {"datum": 261.87}}},
     {"data": {"name": "B1r"}, "mark": {"type": "rule"},
      "encoding": {"y": {"field": "v", "type": "quantitative"}, "x": {"datum": 98.03, "type": "quantitative"}, "x2": {"datum": 261.87},
       "color": {"field": "k", "type": "nominal", "scale": {"domain": ["ub", "est", "lb"], "range": ["#D7264F", "#B8233D", "#D7264F"]}, "legend": null},
       "strokeDash": {"field": "k", "type": "nominal", "scale": {"domain": ["ub", "est", "lb"], "range": [[10, 3, 2, 3], [1, 0], [10, 3, 2, 3]]}, "legend": null},
       "strokeWidth": {"field": "k", "type": "ordinal", "scale": {"domain": ["ub", "est", "lb"], "range": [1.3, 1.4, 1.3]}, "legend": null}}},
     {"data": {"name": "B1h"}, "mark": {"type": "line", "color": "#6A8F3C", "strokeWidth": 1.1, "strokeDash": [4, 2, 1, 2]}, "encoding": {"x": {"field": "x", "type": "quantitative"}, "y": {"field": "y", "type": "quantitative"}}},
     {"data": {"name": "B1l"}, "mark": {"type": "line", "color": "#2C5E8E", "strokeWidth": 1.1, "strokeDash": [4, 2, 1, 2]}, "encoding": {"x": {"field": "x", "type": "quantitative"}, "y": {"field": "y", "type": "quantitative"}}},
     {"data": {"name": "B1c"}, "mark": {"type": "line", "color": "#8B2332", "strokeWidth": 1.3},
      "encoding": {
       "x": {"field": "x", "type": "quantitative", "scale": {"domain": [98.03, 261.87], "range": [36, 261], "nice": false, "zero": false}, "axis": {"values": [100, 150, 200, 250], "offset": -31.3, "title": "Last obs. of sample"}},
       "y": {"field": "y", "type": "quantitative", "scale": {"domain": [0.1944, 0.6078], "range": [356.7, 61.7], "nice": false, "zero": false}, "axis": {"values": [0.2, 0.3, 0.4, 0.5, 0.6], "offset": -36, "title": null, "labelExpr": "datum.value < 1 ? replace(format(datum.value, '.2~f'), '0.', '.') : format(datum.value, 'd')"}}}}
    ]},
   {"width": 256, "height": 388,
    "title": {"text": "Coefficient on lwork (95% CI)", "subtitle": "vs full-sample estimate", "fontSize": 9.8, "subtitleFontSize": 6.5, "subtitlePadding": 0.5, "offset": -51.7, "dx": -4},
    "layer": [
     {"data": {"values": [{"a": 1}]}, "mark": {"type": "rect", "fill": "white"},
      "encoding": {"x": {"datum": 97.82, "type": "quantitative"}, "x2": {"datum": 262.09}, "y": {"datum": 0.1887, "type": "quantitative"}, "y2": {"datum": 1.0186}}},
     {"data": {"values": [{"t": 0.2}, {"t": 0.4}, {"t": 0.6}, {"t": 0.8}, {"t": 1}]}, "mark": {"type": "rule", "color": "#E2EBEE", "strokeWidth": 1},
      "encoding": {"y": {"field": "t", "type": "quantitative"}, "x": {"datum": 97.82, "type": "quantitative"}, "x2": {"datum": 262.09}}},
     {"data": {"name": "B2r"}, "mark": {"type": "rule"},
      "encoding": {"y": {"field": "v", "type": "quantitative"}, "x": {"datum": 97.82, "type": "quantitative"}, "x2": {"datum": 262.09},
       "color": {"field": "k", "type": "nominal", "scale": {"domain": ["ub", "est", "lb"], "range": ["#D81E4F", "#D81E4F", "#D81E4F"]}, "legend": null},
       "strokeDash": {"field": "k", "type": "nominal", "scale": {"domain": ["ub", "est", "lb"], "range": [[10, 3, 2, 3], [1, 0], [10, 3, 2, 3]]}, "legend": null},
       "strokeWidth": {"field": "k", "type": "ordinal", "scale": {"domain": ["ub", "est", "lb"], "range": [1.6, 1.5, 1.3]}, "legend": null}}},
     {"data": {"name": "B2h"}, "mark": {"type": "line", "color": "#6A8F3C", "strokeWidth": 1.1, "strokeDash": [4, 2, 1, 2]}, "encoding": {"x": {"field": "x", "type": "quantitative"}, "y": {"field": "y", "type": "quantitative"}}},
     {"data": {"name": "B2l"}, "mark": {"type": "line", "color": "#2C5E8E", "strokeWidth": 1.1, "strokeDash": [4, 2, 1, 2]}, "encoding": {"x": {"field": "x", "type": "quantitative"}, "y": {"field": "y", "type": "quantitative"}}},
     {"data": {"name": "B2c"}, "mark": {"type": "line", "color": "#8B2332", "strokeWidth": 1.3},
      "encoding": {
       "x": {"field": "x", "type": "quantitative", "scale": {"domain": [97.82, 262.09], "range": [25.7, 251.3], "nice": false, "zero": false}, "axis": {"values": [100, 150, 200, 250], "offset": -31.3, "title": "Last obs. of sample"}},
       "y": {"field": "y", "type": "quantitative", "scale": {"domain": [0.1887, 1.0186], "range": [356.7, 61.7], "nice": false, "zero": false}, "axis": {"values": [0.2, 0.4, 0.6, 0.8, 1], "offset": -25.7, "title": null, "labelExpr": "datum.value < 1 ? replace(format(datum.value, '.2~f'), '0.', '.') : format(datum.value, 'd')"}}}}
    ]}
  ]
 }]
}
]
}
